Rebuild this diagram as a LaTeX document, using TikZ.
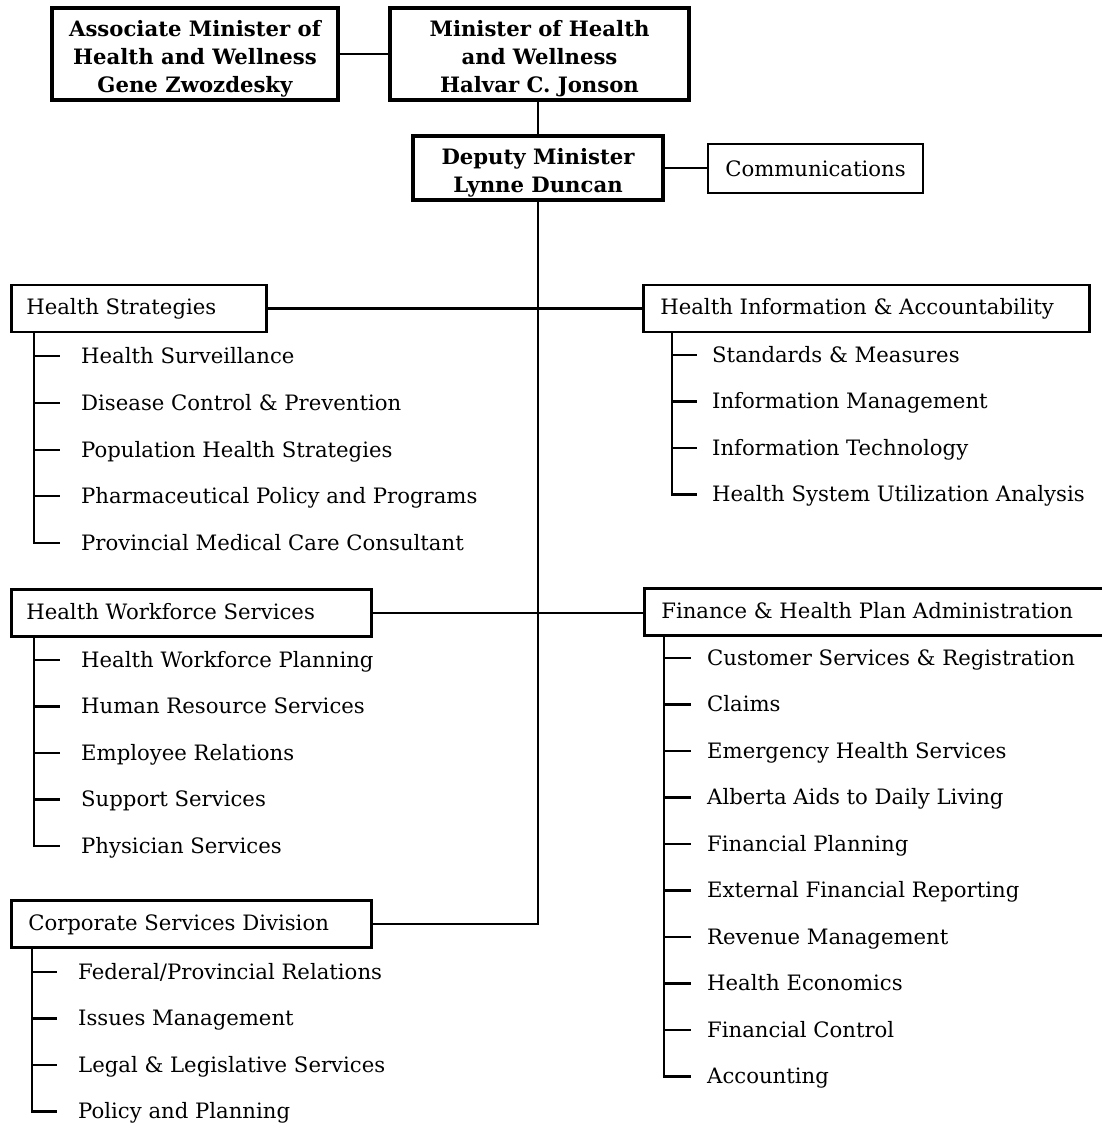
\documentclass[tikz,border=0pt]{standalone}
\usepackage{fontspec}
\setmainfont{DejaVu Serif}
\newcommand{\regfont}{\fontsize{21.2}{26}\selectfont}
\newcommand{\bossfont}{\fontsize{21.2}{28}\selectfont\bfseries}
\begin{document}
\begin{tikzpicture}[x=1pt,y=-1pt,
  boss/.style={draw, line width=3.6pt, align=center, inner sep=0pt, font=\bossfont},
  unit/.style={draw, line width=2.6pt, anchor=west, inner xsep=15pt, inner ysep=0pt, minimum height=47pt, font=\regfont, text height=16pt, text depth=4pt},
  item/.style={anchor=west, inner xsep=21pt, inner ysep=0pt, font=\regfont, text height=16pt, text depth=2pt},
  conn/.style={line width=2.6pt},
]
\useasboundingbox (0,0) rectangle (1102,1127);

% top
\node[boss, minimum width=286pt, minimum height=92pt, text height=76pt, text depth=0pt] (assoc) at (195,54) {Associate Minister of\\Health and Wellness\\Gene Zwozdesky};
\node[boss, minimum width=299pt, minimum height=92pt, text height=76pt, text depth=0pt] (min) at (539.5,54) {Minister of Health\\and Wellness\\Halvar C. Jonson};
\node[boss, minimum width=250pt, minimum height=64pt, text height=48pt, text depth=0pt] (dep) at (538,168) {Deputy Minister\\Lynne Duncan};
\node[draw, line width=2.6pt, minimum width=215pt, minimum height=49pt, inner sep=0pt, font=\regfont] (comm) at (815.5,168.5) {Communications};
\draw[conn] (assoc.east) -- (min.west);
\draw[conn] (dep.north |- min.south) -- (dep.north);
\draw[conn] (dep.east) -- (dep.east -| comm.west);

% divisions
\node[unit] (hs) at (10,308.5) {\makebox[225pt][l]{Health Strategies}};
\node[unit, inner xsep=17pt] (hia) at (642,308.5) {\makebox[412pt][l]{Health Information \& Accountability}};
\node[unit] (hws) at (10,613) {\makebox[330pt][l]{Health Workforce Services}};
\node[unit, inner xsep=17pt] (fhpa) at (643,612) {\makebox[427pt][l]{Finance \& Health Plan Administration}};
\node[unit, inner xsep=17pt] (csd) at (10,924) {\makebox[326pt][l]{Corporate Services Division}};

\draw[conn] (dep.south) -- (dep.south |- csd.east) -- (csd.east);
\draw[conn] (hs.east) -- (hia.west);
\draw[conn] (hws.east) -- (hws.east -| fhpa.west);

% Health Strategies items
\path ([xshift=24pt]hs.south west) coordinate (hsT);
\node[item] (hs1) at (60,356) {Health Surveillance};
\node[item] (hs2) at (60,403) {Disease Control \& Prevention};
\node[item] (hs3) at (60,450) {Population Health Strategies};
\node[item] (hs4) at (60,496) {Pharmaceutical Policy and Programs};
\node[item] (hs5) at (60,543) {Provincial Medical Care Consultant};
\draw[conn] (hsT) |- (hs5.west);
\foreach \i in {1,...,4} \draw[conn] (hs\i.west -| hsT) -- (hs\i.west);

% HI&A items
\path ([xshift=30pt]hia.south west) coordinate (hiaT);
\node[item, inner xsep=15pt] (hia1) at (697,355) {Standards \& Measures};
\node[item, inner xsep=15pt] (hia2) at (697,401.5) {Information Management};
\node[item, inner xsep=15pt] (hia3) at (697,448) {Information Technology};
\node[item, inner xsep=15pt] (hia4) at (697,494.5) {Health System Utilization Analysis};
\draw[conn] (hiaT) |- (hia4.west);
\foreach \i in {1,...,3} \draw[conn] (hia\i.west -| hiaT) -- (hia\i.west);

% HWS items
\path ([xshift=24pt]hws.south west) coordinate (hwsT);
\node[item] (hws1) at (60,660) {Health Workforce Planning};
\node[item] (hws2) at (60,706.5) {Human Resource Services};
\node[item] (hws3) at (60,753) {Employee Relations};
\node[item] (hws4) at (60,799.5) {Support Services};
\node[item] (hws5) at (60,846) {Physician Services};
\draw[conn] (hwsT) |- (hws5.west);
\foreach \i in {1,...,4} \draw[conn] (hws\i.west -| hwsT) -- (hws\i.west);

% FHPA items
\path ([xshift=21pt]fhpa.south west) coordinate (fT);
\node[item, inner xsep=16pt] (f1) at (691,658) {Customer Services \& Registration};
\node[item, inner xsep=16pt] (f2) at (691,704.5) {Claims};
\node[item, inner xsep=16pt] (f3) at (691,751) {Emergency Health Services};
\node[item, inner xsep=16pt] (f4) at (691,797.5) {Alberta Aids to Daily Living};
\node[item, inner xsep=16pt] (f5) at (691,844) {Financial Planning};
\node[item, inner xsep=16pt] (f6) at (691,890.5) {External Financial Reporting};
\node[item, inner xsep=16pt] (f7) at (691,937) {Revenue Management};
\node[item, inner xsep=16pt] (f8) at (691,983.5) {Health Economics};
\node[item, inner xsep=16pt] (f9) at (691,1030) {Financial Control};
\node[item, inner xsep=16pt] (f10) at (691,1076.5) {Accounting};
\draw[conn] (fT) |- (f10.west);
\foreach \i in {1,...,9} \draw[conn] (f\i.west -| fT) -- (f\i.west);

% CSD items
\path ([xshift=22pt]csd.south west) coordinate (cT);
\node[item] (c1) at (57,972) {Federal/Provincial Relations};
\node[item] (c2) at (57,1018.5) {Issues Management};
\node[item] (c3) at (57,1065) {Legal \& Legislative Services};
\node[item] (c4) at (57,1111.5) {Policy and Planning};
\draw[conn] (cT) |- (c4.west);
\foreach \i in {1,...,3} \draw[conn] (c\i.west -| cT) -- (c\i.west);
\end{tikzpicture}
\end{document}
